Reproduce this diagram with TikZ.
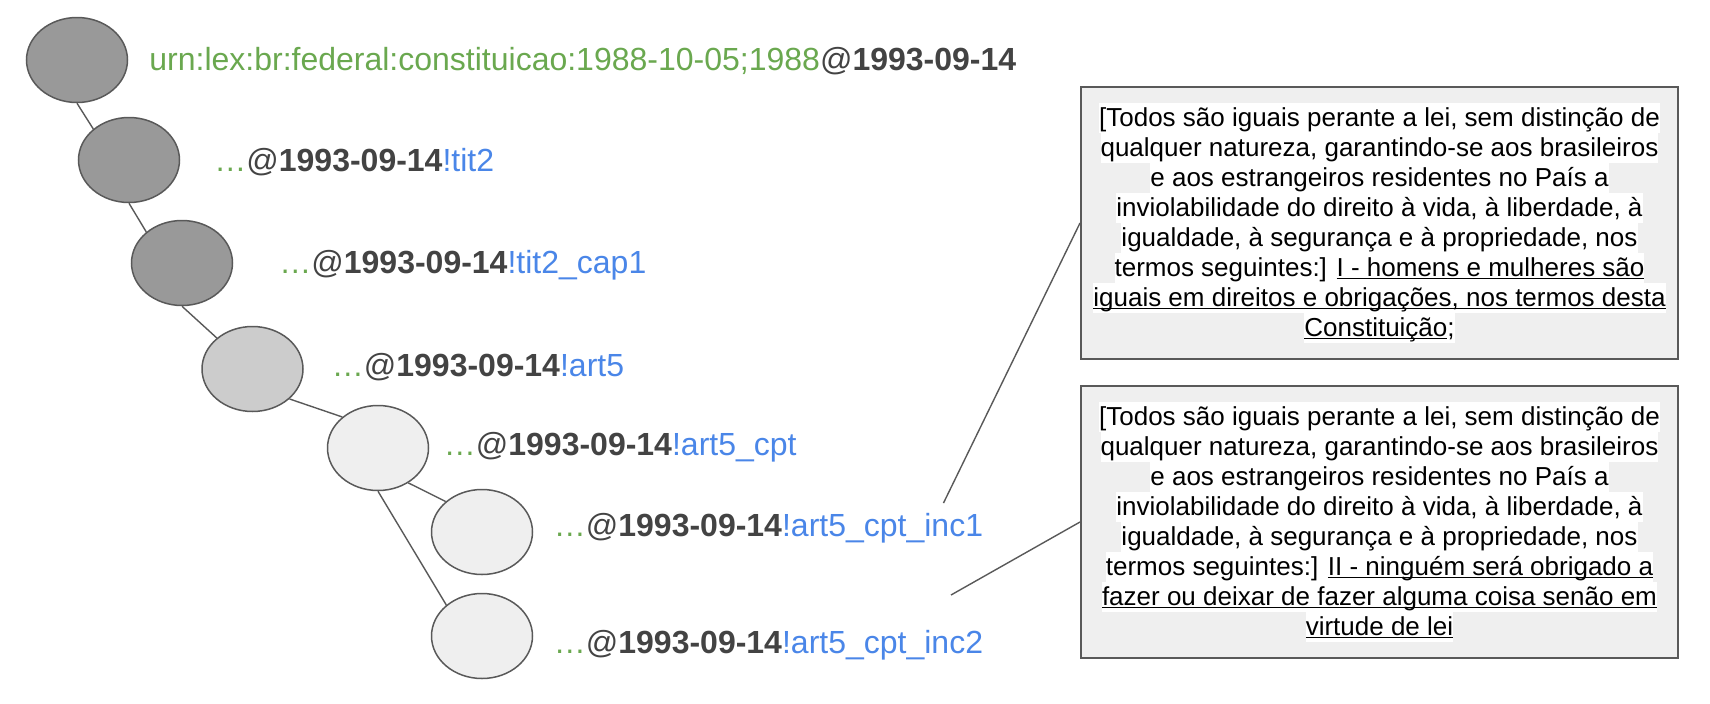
\documentclass[tikz,border=0pt]{standalone}
\usepackage{fontspec}
\setmainfont{Liberation Sans}
\usetikzlibrary{shapes.geometric}
\definecolor{UrnColor}{RGB}{106,168,79}
\definecolor{IdColor}{RGB}{74,134,232}
\definecolor{DateColor}{RGB}{67,67,67}
\definecolor{NodeDark}{RGB}{153,153,153}
\definecolor{NodeMid}{RGB}{204,204,204}
\definecolor{NodeLight}{RGB}{239,239,239}
\definecolor{EdgeColor}{RGB}{89,89,89}
\definecolor{NoteFill}{RGB}{239,239,239}

\newcommand{\atdate}{@\textbf{1993-09-14}}
\newcommand{\fragid}[1]{\textcolor{UrnColor}{…}\atdate\textcolor{IdColor}{!#1}}
\newcommand{\hl}[1]{{\setlength{\fboxsep}{0pt}\colorbox{white}{\rule[-3.5pt]{0pt}{15pt}#1}}}
\newcommand{\undl}[1]{\setbox0\hbox{#1}\rlap{\rule[-1.6pt]{\wd0}{0.6pt}}\box0}

\begin{document}
\begin{tikzpicture}[
    x=0.5pt, y=-0.5pt,
    every node/.style={font=\fontsize{16pt}{19pt}\selectfont},
    vnode/.style={ellipse, draw=EdgeColor, line width=0.75pt, minimum width=50.5pt, minimum height=42.5pt, inner sep=0pt},
    uri/.style={anchor=base west, inner sep=0pt, text=DateColor},
    notebox/.style={rectangle, draw=EdgeColor, line width=1pt, fill=NoteFill, minimum width=298.5pt, minimum height=136pt, align=center, inner sep=0pt, font=\fontsize{13pt}{15pt}\selectfont},
    branch/.style={draw=EdgeColor, line width=0.7pt},
]
\useasboundingbox (0,0) rectangle (1710,703);

% Versions of the expression
\node[vnode, fill=NodeDark] (e1) at (77,60) {};
\node[vnode, fill=NodeDark] (e2) at (129,160) {};
\node[vnode, fill=NodeDark] (e3) at (182,263) {};
\node[vnode, fill=NodeMid] (e4) at (252.5,369) {};
\node[vnode, fill=NodeLight] (e5) at (378,448) {};
\node[vnode, fill=NodeLight] (e6) at (482,532) {};
\node[vnode, fill=NodeLight] (e7) at (482,636) {};

% Tree edges
\draw[branch] (e1.south) -- (e2.139);
\draw[branch] (e2.south) -- (e3.139);
\draw[branch] (e3.south) -- (e4.139);
\draw[branch] (e4.-39) -- (e5.139);
\draw[branch] (e5.-49) -- (e6.140);
\draw[branch] (e5.south) -- (e7.139);

% URN labels
\node[uri] (u1) at (149,70) {\textcolor{UrnColor}{urn:lex:br:federal:constituicao:1988-10-05;1988}\atdate};
\node[uri] (u2) at (214,171) {\fragid{tit2}};
\node[uri] (u3) at (279,273) {\fragid{tit2\_cap1}};
\node[uri] (u4) at (331.5,376.5) {\fragid{art5}};
\node[uri] (u5) at (443.5,455) {\fragid{art5\_cpt}};
\node[uri] (u6) at (553.5,536.5) {\fragid{art5\_cpt\_inc1}};
\node[uri] (u7) at (553.5,653) {\fragid{art5\_cpt\_inc2}};

% Text of the fragments
\node[notebox] (note1) at (1379.5,223) {
    \hl{[Todos são iguais perante a lei, sem distinção de}\\
    \hl{qualquer natureza, garantindo-se aos brasileiros}\\
    \hl{e aos estrangeiros residentes no País a}\\
    \hl{inviolabilidade do direito à vida, à liberdade, à}\\
    \hl{igualdade, à segurança e à propriedade, nos}\\
    \hl{termos seguintes:] \undl{I - homens e mulheres são}}\\
    \hl{\undl{iguais em direitos e obrigações, nos termos desta}}\\
    \hl{\undl{Constituição};}
};
\node[notebox] (note2) at (1379.5,522) {
    \hl{[Todos são iguais perante a lei, sem distinção de}\\
    \hl{qualquer natureza, garantindo-se aos brasileiros}\\
    \hl{e aos estrangeiros residentes no País a}\\
    \hl{inviolabilidade do direito à vida, à liberdade, à}\\
    \hl{igualdade, à segurança e à propriedade, nos}\\
    \hl{termos seguintes:] \undl{II - ninguém será obrigado a}}\\
    \hl{\undl{fazer ou deixar de fazer alguma coisa senão em}}\\
    \hl{\undl{virtude de lei}}
};

% Leaders to the notes
\coordinate (tip1) at (943.5,503);
\coordinate (tip2) at (951,595);
\draw[branch] (tip1) -- (note1.west);
\draw[branch] (tip2) -- (note2.west);

\end{tikzpicture}
\end{document}
